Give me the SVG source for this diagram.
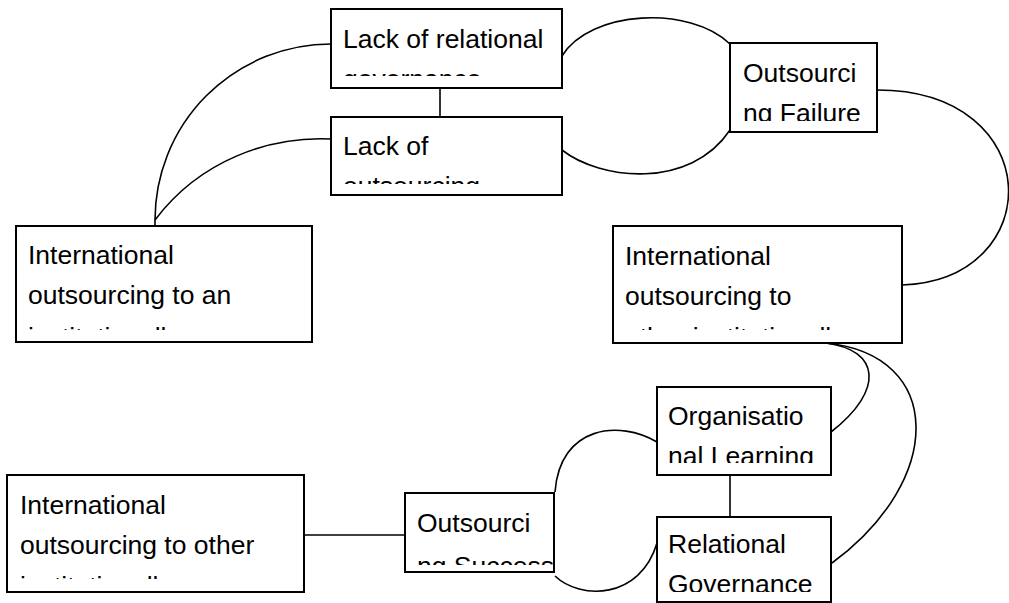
<svg xmlns="http://www.w3.org/2000/svg" width="1009" height="603" viewBox="0 0 1009 603">
<style>
.box{fill:#fff;stroke:#000;stroke-width:2}
.lbl{font-family:"Liberation Sans",Arial,sans-serif;font-size:26.5px;fill:#000}
.con{fill:none;stroke:#000;stroke-width:1.6}
</style>
<defs>
<clipPath id="cA"><rect x="331" y="9" width="231" height="67"/></clipPath>
<clipPath id="cB"><rect x="331" y="117" width="231" height="67"/></clipPath>
<clipPath id="cC"><rect x="730" y="43" width="147" height="78"/></clipPath>
<clipPath id="cT"><rect x="16" y="226" width="296" height="104"/></clipPath>
<clipPath id="cD"><rect x="613" y="226" width="289" height="104"/></clipPath>
<clipPath id="cE"><rect x="7" y="475" width="297" height="104"/></clipPath>
<clipPath id="cF"><rect x="405" y="493" width="149" height="72"/></clipPath>
<clipPath id="cG"><rect x="657" y="387" width="174" height="76"/></clipPath>
<clipPath id="cH"><rect x="657" y="517" width="174" height="75"/></clipPath>
</defs>
<g id="connectors">
<path class="con" d="M331,44 A176,176 0 0 0 155,220 L155,226"/>
<path class="con" d="M331,139 C270,136 200,160 155,220"/>
<line class="con" x1="440" y1="88" x2="440" y2="117"/>
<path class="con" d="M562,56 C590,10 690,5 730,44"/>
<path class="con" d="M562,150 C600,180 690,190 730,130"/>
<path class="con" d="M877,90 C1048,90 1048,280 902,285"/>
<path class="con" d="M826,343 C880,350 885,390 831,432"/>
<path class="con" d="M826,343 C945,355 945,480 832,563"/>
<line class="con" x1="730" y1="475" x2="730" y2="517"/>
<line class="con" x1="304" y1="535" x2="405" y2="535"/>
<path class="con" d="M657,442 C620,420 560,425 555,492"/>
<path class="con" d="M555,576 C580,600 640,600 657,543"/>
</g>
<g id="nodeA">
<rect class="box" x="331" y="9" width="231" height="79"/>
<g clip-path="url(#cA)"><text class="lbl" x="343" y="48">Lack of relational</text><text class="lbl" x="343" y="88">governance</text></g>
</g>
<g id="nodeB">
<rect class="box" x="331" y="117" width="231" height="78"/>
<g clip-path="url(#cB)"><text class="lbl" x="343" y="155">Lack of</text><text class="lbl" x="343" y="195">outsourcing</text></g>
</g>
<g id="nodeC">
<rect class="box" x="730" y="43" width="147" height="89"/>
<g clip-path="url(#cC)"><text class="lbl" x="743" y="82">Outsourci</text><text class="lbl" x="743" y="122">ng Failure</text></g>
</g>
<g id="nodeT">
<rect class="box" x="16" y="226" width="296" height="116"/>
<g clip-path="url(#cT)"><text class="lbl" x="28" y="264">International</text><text class="lbl" x="28" y="304">outsourcing to an</text><text class="lbl" x="28" y="346">institutionally</text></g>
</g>
<g id="nodeD">
<rect class="box" x="613" y="226" width="289" height="117"/>
<g clip-path="url(#cD)"><text class="lbl" x="625" y="265">International</text><text class="lbl" x="625" y="305">outsourcing to</text><text class="lbl" x="625" y="346">other institutionally</text></g>
</g>
<g id="nodeE">
<rect class="box" x="7" y="475" width="297" height="117"/>
<g clip-path="url(#cE)"><text class="lbl" x="20" y="514">International</text><text class="lbl" x="20" y="554">outsourcing to other</text><text class="lbl" x="20" y="595">institutionally</text></g>
</g>
<g id="nodeF">
<rect class="box" x="405" y="493" width="149" height="79"/>
<g clip-path="url(#cF)"><text class="lbl" x="417" y="532">Outsourci</text><text class="lbl" x="417" y="575">ng Success</text></g>
</g>
<g id="nodeG">
<rect class="box" x="657" y="387" width="174" height="88"/>
<g clip-path="url(#cG)"><text class="lbl" x="668" y="425">Organisatio</text><text class="lbl" x="668" y="465">nal Learning</text></g>
</g>
<g id="nodeH">
<rect class="box" x="657" y="517" width="174" height="85"/>
<g clip-path="url(#cH)"><text class="lbl" x="668" y="553">Relational</text><text class="lbl" x="668" y="593">Governance</text></g>
</g>
</svg>
